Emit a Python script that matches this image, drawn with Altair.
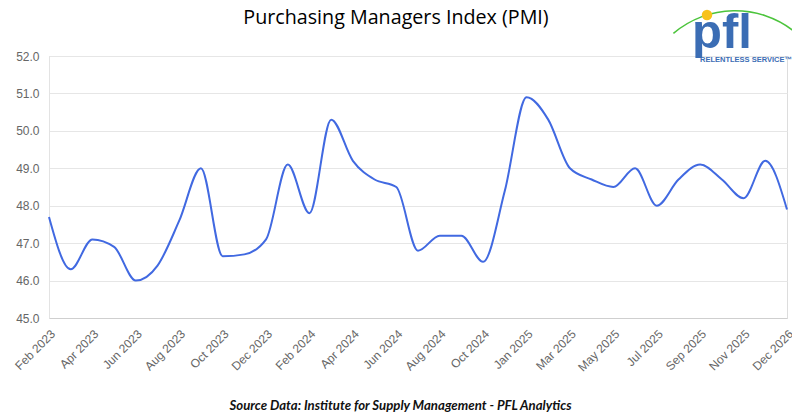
import altair as alt
import pandas as pd

months = [
    "Feb 2023", "Mar 2023", "Apr 2023", "May 2023", "Jun 2023", "Jul 2023",
    "Aug 2023", "Sep 2023", "Oct 2023", "Nov 2023", "Dec 2023", "Jan 2024",
    "Feb 2024", "Mar 2024", "Apr 2024", "May 2024", "Jun 2024", "Jul 2024",
    "Aug 2024", "Sep 2024", "Oct 2024", "Nov 2024", "Jan 2025", "Feb 2025",
    "Mar 2025", "Apr 2025", "May 2025", "Jun 2025", "Jul 2025", "Aug 2025",
    "Sep 2025", "Oct 2025", "Nov 2025", "Dec 2025", "Dec 2026",
]
pmi = [
    47.7, 46.3, 47.1, 46.9, 46.0, 46.4, 47.6, 49.0, 46.65, 46.7, 47.1, 49.1,
    47.8, 50.3, 49.2, 48.7, 48.5, 46.8, 47.2, 47.2, 46.5, 48.4, 50.9, 50.3,
    49.0, 48.7, 48.5, 49.0, 48.0, 48.7, 49.1, 48.7, 48.2, 49.2, 47.9,
]
tick_labels = months[::2]
y_ticks = [45, 46, 47, 48, 49, 50, 51, 52]
title_text = "Purchasing Managers Index (PMI)"

df = pd.DataFrame({"month": months, "pmi": pmi})

W, H = 738, 262

line = alt.Chart(df).mark_line(
    color="#4169e1", strokeWidth=2, interpolate="monotone"
).encode(
    x=alt.X(
        "month:O",
        sort=months,
        scale=alt.Scale(type="point", padding=0),
        axis=alt.Axis(
            values=tick_labels,
            labelAngle=-45,
            labelColor="#666666",
            labelFont="Liberation Sans",
            labelFontSize=12,
            labelPadding=10,
            tickSize=0,
            domainColor="#cfcfcf",
            grid=False,
            title="Source Data: Institute for Supply Management - PFL Analytics",
            titleFont="Lato",
            titleFontSize=13.2,
            titleFontStyle="italic",
            titleFontWeight="bold",
            titleColor="#111111",
            titleX=351,
            titleY=87,
            titleAlign="center",
            titleBaseline="middle",
        ),
    ),
    y=alt.Y(
        "pmi:Q",
        scale=alt.Scale(domain=[45, 52], nice=False, zero=False),
        axis=alt.Axis(
            values=y_ticks,
            format=".1f",
            labelColor="#666666",
            labelFont="Liberation Sans",
            labelFontSize=12,
            labelPadding=10,
            tickSize=0,
            domainColor="#e3e3e3",
            gridColor="#e6e6e6",
            title=None,
        ),
    ),
)

one = alt.Data(values=[{"k": 1}])

title = alt.Chart(one).mark_text(
    text=title_text, font="Open Sans", fontSize=19.7, color="#000000",
    align="center", baseline="middle"
).encode(x=alt.value(347), y=alt.value(-38))

arc = alt.Chart(one).mark_arc(color="#4cc43c").encode(
    x=alt.value(686),
    y=alt.value(50),
    theta=alt.value(5.58),
    theta2=alt.value(6.95),
    radius=alt.value(96),
    radius2=alt.value(94.5),
)
dot = alt.Chart(one).mark_point(filled=True, color="#f7c21a", opacity=1).encode(
    x=alt.value(658), y=alt.value(-41), size=alt.value(110)
)
logo = alt.Chart(one).mark_text(
    text="pfl", font="Liberation Sans", fontSize=49, fontWeight="bold",
    color="#3b6db4", align="left", baseline="alphabetic"
).encode(x=alt.value(643), y=alt.value(-8))
tag = alt.Chart(one).mark_text(
    text="RELENTLESS SERVICE™", font="Liberation Sans", fontSize=7.5,
    fontWeight="bold", color="#3b6db4", align="left", baseline="middle"
).encode(x=alt.value(651), y=alt.value(4))

chart = alt.layer(arc, line, title, dot, logo, tag).properties(
    width=W,
    height=H,
    autosize=alt.AutoSizeParams(type="none"),
    padding={"left": 41, "top": 48, "right": 5, "bottom": 94},
).configure_view(stroke=None).configure(background="white")

chart.save("out.html", embed_options={"renderer": "svg", "actions": False})
